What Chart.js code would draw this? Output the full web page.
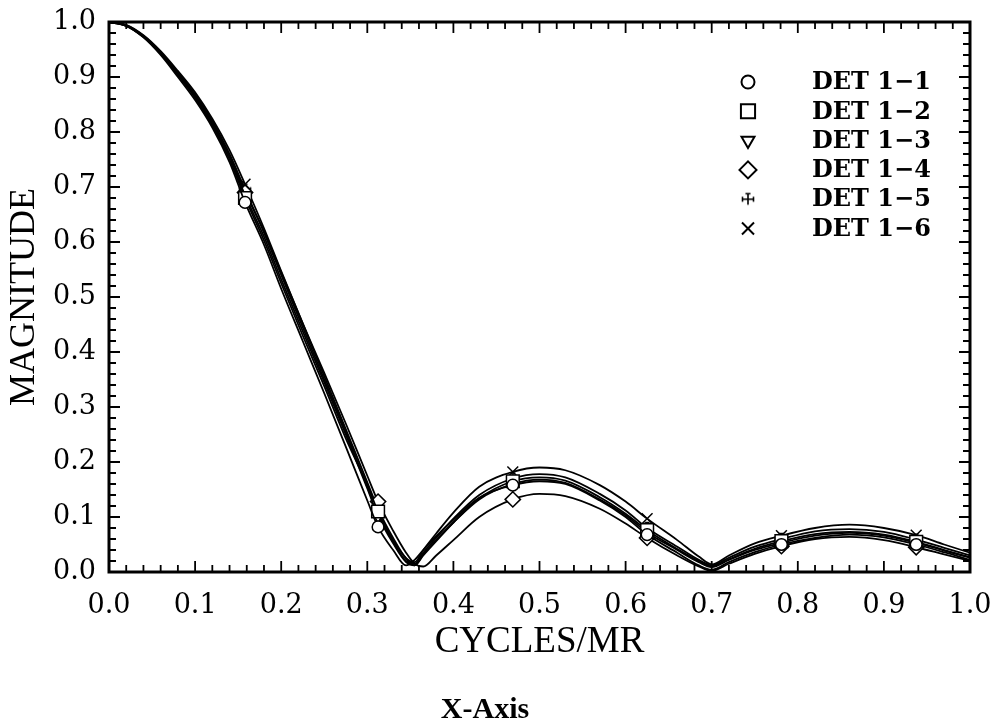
<!DOCTYPE html>
<html>
<head>
<meta charset="utf-8">
<script src="https://cdn.jsdelivr.net/npm/chart.js@4.4.1/dist/chart.umd.min.js"></script>
<style>
  html, body { margin: 0; padding: 0; background: #fff; }
  #wrap { width: 992px; height: 726px; }
</style>
</head>
<body>
<div id="wrap"><canvas id="mtf" width="992" height="726"></canvas></div>
<script>
// Spatial frequency samples (cycles per milliradian)
const freq = [0, 0.02, 0.04, 0.06, 0.08, 0.1, 0.12, 0.14, 0.158, 0.18, 0.2, 0.225, 0.25, 0.275, 0.3,
  0.3125, 0.33, 0.345, 0.355, 0.365, 0.38, 0.4, 0.43, 0.469, 0.5, 0.53, 0.57, 0.6, 0.625, 0.66, 0.685, 0.7,
  0.72, 0.75, 0.781, 0.82, 0.86, 0.9, 0.9375, 0.97, 1.0];

// MTF magnitude per detector
const det11 = [1, .993, .972, .94, .9, .858, .808, .745, .672, .595, .515, .42, .325, .228, .13,
  .082, .04, .012, .022, .04, .065, .095, .135, .158, .165, .16, .13, .1, .068, .035, .012, .004,
  .018, .036, .05, .062, .068, .063, .05, .036, .022];
const det12 = [1, .993, .973, .942, .903, .862, .812, .75, .68, .603, .525, .43, .338, .243, .158,
  .11, .058, .025, .012, .03, .056, .09, .134, .165, .172, .166, .136, .106, .076, .042, .02, .01,
  .023, .042, .056, .069, .073, .068, .055, .04, .027];
const det13 = [1, .993, .973, .943, .905, .865, .815, .755, .685, .61, .532, .438, .345, .25, .152,
  .102, .052, .018, .012, .032, .058, .09, .132, .16, .168, .162, .132, .103, .072, .04, .018, .009,
  .022, .04, .053, .066, .071, .066, .053, .039, .026];
const det14 = [1, .994, .974, .944, .906, .866, .816, .757, .69, .62, .545, .452, .362, .27, .175,
  .128, .075, .035, .015, .01, .03, .058, .1, .132, .142, .138, .115, .088, .062, .03, .01, .002,
  .015, .033, .047, .06, .064, .058, .045, .032, .02];
const det15 = [1, .994, .975, .945, .908, .868, .82, .76, .695, .617, .54, .445, .35, .255, .155,
  .106, .055, .02, .015, .035, .062, .097, .14, .17, .178, .172, .142, .112, .08, .046, .022, .012,
  .026, .046, .06, .074, .078, .073, .059, .044, .03];
const det16 = [1, .995, .976, .947, .911, .872, .824, .767, .705, .625, .547, .452, .356, .26, .163,
  .115, .062, .025, .018, .04, .07, .108, .155, .182, .19, .185, .158, .128, .097, .058, .028, .014,
  .03, .052, .066, .08, .086, .08, .067, .05, .035];

// Frequencies where the measured samples are marked with symbols
const markerFreqs = [0.158, 0.3125, 0.469, 0.625, 0.781, 0.9375];

const seriesLabels = ['DET 1\u22121', 'DET 1\u22122', 'DET 1\u22123', 'DET 1\u22124', 'DET 1\u22125', 'DET 1\u22126'];
const xTickValues = [0, 0.1, 0.2, 0.3, 0.4, 0.5, 0.6, 0.7, 0.8, 0.9, 1.0];
const yTickValues = [0, 0.1, 0.2, 0.3, 0.4, 0.5, 0.6, 0.7, 0.8, 0.9, 1.0];
const xTitle = 'CYCLES/MR';
const yTitle = 'MAGNITUDE';
const caption = 'X-Axis';

// Small "cross with serifs" symbol used for DET 1-5
function makeSerifCross(size) {
  const c = document.createElement('canvas');
  c.width = size; c.height = size;
  const g = c.getContext('2d');
  const m = size / 2, e = 1.5, cap = size * 0.18;
  g.strokeStyle = '#000';
  g.lineWidth = 1.6;
  g.beginPath();
  g.moveTo(m, e); g.lineTo(m, size - e);
  g.moveTo(e, m); g.lineTo(size - e, m);
  g.moveTo(m - cap, e); g.lineTo(m + cap, e);
  g.moveTo(e, m - cap); g.lineTo(e, m + cap);
  g.moveTo(size - e, m - cap); g.lineTo(size - e, m + cap);
  g.stroke();
  return c;
}

const symbols = [
  { pointStyle: 'circle', rotation: 0, radius: 6.5 },
  { pointStyle: 'rect', rotation: 0, radius: 10 },
  { pointStyle: 'triangle', rotation: 180, radius: 7.5 },
  { pointStyle: 'rectRot', rotation: 0, radius: 8.5 },
  { pointStyle: makeSerifCross(14), rotation: 0, radius: 7 },
  { pointStyle: 'crossRot', rotation: 0, radius: 8.5 }
];

const seriesValues = [det11, det12, det13, det14, det15, det16];
const markerIndex = new Set(markerFreqs.map(f => freq.indexOf(f)));

const datasets = seriesValues.map((vals, i) => ({
  label: seriesLabels[i],
  data: freq.map((f, k) => ({ x: f, y: vals[k] })),
  showLine: true,
  borderColor: '#000',
  borderWidth: 1.8,
  cubicInterpolationMode: 'monotone',
  pointStyle: symbols[i].pointStyle,
  pointRotation: symbols[i].rotation,
  pointRadius: ctx => markerIndex.has(ctx.dataIndex) ? symbols[i].radius * 0.9 : 0,
  pointBackgroundColor: '#fff',
  pointBorderColor: '#000',
  pointBorderWidth: 1.5,
  pointHoverRadius: 0
}));

// Boxed frame with inward minor/major ticks on all four sides
const framePlugin = {
  id: 'frame',
  afterDraw(chart) {
    const { ctx, chartArea: a, scales } = chart;
    ctx.save();
    ctx.strokeStyle = '#000';
    ctx.lineWidth = 1.8;
    ctx.beginPath();
    for (let i = 0; i <= 50; i++) {
      const px = scales.x.getPixelForValue(i * 0.02);
      const len = i % 5 === 0 ? 11 : 7;
      ctx.moveTo(px, a.bottom); ctx.lineTo(px, a.bottom - len);
      ctx.moveTo(px, a.top); ctx.lineTo(px, a.top + len);
      const py = scales.y.getPixelForValue(i * 0.02);
      ctx.moveTo(a.left, py); ctx.lineTo(a.left + len, py);
      ctx.moveTo(a.right, py); ctx.lineTo(a.right - len, py);
    }
    ctx.stroke();
    ctx.lineWidth = 3;
    ctx.strokeRect(a.left, a.top, a.right - a.left, a.bottom - a.top);
    ctx.restore();
  }
};

// Symbol key in the upper right of the plot
const keyPlugin = {
  id: 'symbolKey',
  afterDraw(chart) {
    const { ctx, chartArea: a } = chart;
    const symX = a.right - 222, textX = a.right - 158, y0 = a.top + 60, dy = 29.3;
    ctx.save();
    ctx.font = 'bold 24px "DejaVu Serif"';
    ctx.textBaseline = 'middle';
    ctx.textAlign = 'left';
    chart.data.datasets.forEach((ds, i) => {
      const y = y0 + i * dy;
      ctx.strokeStyle = '#000';
      ctx.fillStyle = '#fff';
      ctx.lineWidth = 2;
      Chart.helpers.drawPoint(ctx, {
        pointStyle: symbols[i].pointStyle,
        rotation: symbols[i].rotation,
        radius: symbols[i].radius,
        borderWidth: 2
      }, symX, y);
      ctx.fillStyle = '#000';
      ctx.fillText(ds.label, textX, y + 1);
    });
    ctx.restore();
  }
};

const tickFont = { family: '"DejaVu Serif"', size: 27 };

new Chart(document.getElementById('mtf'), {
  type: 'scatter',
  data: { datasets },
  options: {
    responsive: false,
    animation: false,
    events: [],
    layout: { padding: { left: 0, right: 22, top: 22, bottom: 0 } },
    scales: {
      x: {
        type: 'linear', min: 0, max: 1,
        afterBuildTicks: s => { s.ticks = xTickValues.map(v => ({ value: v })); },
        afterFit: s => { s.height = 123; s.paddingLeft = 0; s.paddingRight = 0; },
        grid: { display: false, drawTicks: false },
        border: { display: false },
        ticks: { color: '#000', font: tickFont, padding: 18, maxRotation: 0, autoSkip: false,
                 callback: v => Number(v).toFixed(1) },
        title: { display: true, text: xTitle, color: '#000',
                 font: { family: '"Liberation Serif"', size: 37 }, padding: { top: 0, bottom: 31 } }
      },
      y: {
        type: 'linear', min: 0, max: 1,
        afterBuildTicks: s => { s.ticks = yTickValues.map(v => ({ value: v })); },
        afterFit: s => { s.width = 109; s.paddingTop = 0; s.paddingBottom = 0; },
        grid: { display: false, drawTicks: false },
        border: { display: false },
        ticks: { color: '#000', font: tickFont, padding: 13, autoSkip: false,
                 callback: v => Number(v).toFixed(1) },
        title: { display: true, text: yTitle, color: '#000',
                 font: { family: '"Liberation Serif"', size: 36 }, padding: { top: 3, bottom: 0 } }
      }
    },
    plugins: {
      legend: { display: false },
      tooltip: { enabled: false },
      title: {
        display: true, position: 'bottom', text: caption, color: '#000',
        font: { family: '"Liberation Serif"', size: 30, weight: 'bold', lineHeight: 1.0 },
        padding: { top: 0, bottom: 1 }
      }
    }
  },
  plugins: [framePlugin, keyPlugin]
});
</script>
</body>
</html>
